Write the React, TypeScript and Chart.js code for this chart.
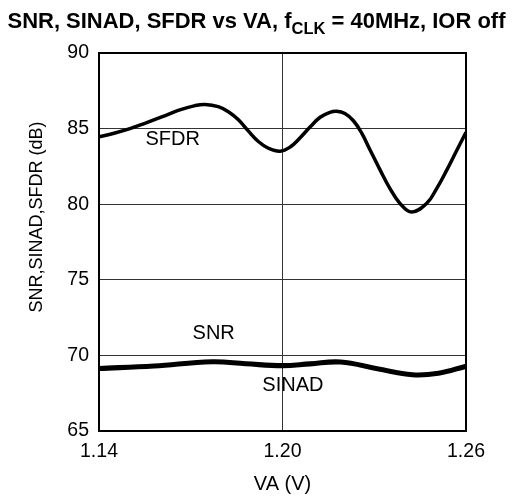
import React, { useEffect, useRef } from 'react';
import { Chart, registerables } from 'chart.js';

Chart.register(...registerables);

const FONT = "'Liberation Sans', Arial, Helvetica, sans-serif";

// ---- data ----
const sfdrX = [1.14, 1.1452, 1.1501, 1.155, 1.1605, 1.1659, 1.1714, 1.1747, 1.179, 1.1823, 1.1855, 1.1888, 1.1921, 1.1954, 1.1992, 1.2025, 1.2057, 1.209, 1.2123, 1.2155, 1.2177, 1.2204, 1.2232, 1.2259, 1.2286, 1.2319, 1.2351, 1.2384, 1.2422, 1.2471, 1.2504, 1.2537, 1.257, 1.26];
const sfdrY = [84.45, 84.71, 85.0, 85.35, 85.77, 86.2, 86.52, 86.6, 86.45, 86.12, 85.6, 84.85, 84.15, 83.7, 83.5, 83.78, 84.38, 85.1, 85.75, 86.08, 86.15, 86.0, 85.52, 84.7, 83.6, 82.27, 81.05, 80.05, 79.48, 80.04, 81.03, 82.25, 83.57, 84.75];

const noiseX = [1.14, 1.158, 1.177, 1.188, 1.2, 1.209, 1.219, 1.231, 1.2425, 1.251, 1.26];
const snrY = [69.2, 69.37, 69.65, 69.52, 69.39, 69.51, 69.63, 69.19, 68.79, 68.89, 69.35];
const sinadY = [69.06, 69.23, 69.51, 69.38, 69.25, 69.37, 69.49, 69.05, 68.65, 68.75, 69.21];

const xTicks = [1.14, 1.2, 1.26];
const yTicks = [65, 70, 75, 80, 85, 90];

const titleMain = 'SNR, SINAD, SFDR vs VA, f';
const titleSub = 'CLK';
const titleRest = ' = 40MHz, IOR off';
const xTitle = 'VA (V)';
const yTitle = 'SNR,SINAD,SFDR (dB)';

const curveLabels = [
  { text: 'SFDR', x: 1.1641, y: 84.25 },
  { text: 'SNR', x: 1.1775, y: 71.44 },
  { text: 'SINAD', x: 1.2034, y: 68.04 },
];

const decor = {
  id: 'decor',
  afterDraw(chart: any) {
    const { ctx, chartArea: a, scales } = chart;
    ctx.save();
    // plot frame
    ctx.strokeStyle = '#000';
    ctx.lineWidth = 2;
    ctx.strokeRect(a.left, a.top, a.right - a.left, a.bottom - a.top);

    ctx.fillStyle = '#000';
    // curve labels
    ctx.font = `20px ${FONT}`;
    ctx.textAlign = 'center';
    ctx.textBaseline = 'middle';
    for (const l of curveLabels) {
      ctx.fillText(l.text, scales.x.getPixelForValue(l.x), scales.y.getPixelForValue(l.y));
    }

    // x title
    ctx.font = `20px ${FONT}`;
    ctx.fillText(xTitle, (a.left + a.right) / 2, 484);

    // y title
    ctx.save();
    ctx.translate(37.5, 217);
    ctx.rotate(-Math.PI / 2);
    ctx.font = `18px ${FONT}`;
    ctx.fillText(yTitle, 0, 0);
    ctx.restore();

    // title with subscript, fitted to width
    const base = 21;
    const subRatio = 0.75;
    ctx.textAlign = 'left';
    ctx.textBaseline = 'alphabetic';
    ctx.font = `bold ${base}px ${FONT}`;
    const w1 = ctx.measureText(titleMain).width;
    const w3 = ctx.measureText(titleRest).width;
    ctx.font = `bold ${base * subRatio}px ${FONT}`;
    const w2 = ctx.measureText(titleSub).width;
    const s = 498 / (w1 + w2 + w3);
    const fMain = base * s;
    const fSub = base * subRatio * s;
    let x = 7.5;
    ctx.font = `bold ${fMain}px ${FONT}`;
    ctx.fillText(titleMain, x, 27.5);
    x += w1 * s;
    ctx.font = `bold ${fSub}px ${FONT}`;
    ctx.fillText(titleSub, x, 33.5);
    x += w2 * s;
    ctx.font = `bold ${fMain}px ${FONT}`;
    ctx.fillText(titleRest, x, 27.5);
    ctx.restore();
  },
};

export default function App() {
  const ref = useRef<HTMLCanvasElement>(null);
  useEffect(() => {
    if (!ref.current) return;
    Chart.defaults.font.family = FONT;
    const toPts = (xs: number[], ys: number[]) => xs.map((x, i) => ({ x, y: ys[i] }));
    const common = { borderColor: '#000', pointRadius: 0, fill: false };
    const chart = new Chart(ref.current, {
      type: 'line',
      data: {
        datasets: [
          { label: 'SFDR', data: toPts(sfdrX, sfdrY), borderWidth: 3.5, tension: 0.4, ...common },
          { label: 'SNR', data: toPts(noiseX, snrY), borderWidth: 3, tension: 0.4, ...common },
          { label: 'SINAD', data: toPts(noiseX, sinadY), borderWidth: 3, tension: 0.4, ...common },
        ],
      },
      options: {
        responsive: false,
        animation: false,
        layout: { padding: { left: 0, right: 52, top: 53, bottom: 0 } },
        plugins: { legend: { display: false }, tooltip: { enabled: false }, title: { display: false } },
        scales: {
          x: {
            type: 'linear',
            min: 1.14,
            max: 1.26,
            afterBuildTicks: (sc: any) => { sc.ticks = xTicks.map((v) => ({ value: v })); },
            afterFit: (sc: any) => { sc.height = 66; },
            ticks: { color: '#000', font: { size: 19.5 }, padding: 9, maxRotation: 0, autoSkip: false, callback: (v: any) => Number(v).toFixed(2) },
            grid: { color: '#333', lineWidth: 1, drawTicks: false },
            border: { display: false },
          },
          y: {
            type: 'linear',
            min: 65,
            max: 90,
            afterBuildTicks: (sc: any) => { sc.ticks = yTicks.map((v) => ({ value: v })); },
            afterFit: (sc: any) => { sc.width = 99; },
            ticks: { color: '#000', font: { size: 19.5 }, padding: 10, autoSkip: false },
            grid: { color: '#333', lineWidth: 1, drawTicks: false },
            border: { display: false },
          },
        },
      },
      plugins: [decor],
    });
    return () => chart.destroy();
  }, []);
  return (
    <div style={{ position: 'fixed', left: 0, top: 0, width: 518, height: 497, background: '#fff' }}>
      <canvas ref={ref} width={518} height={497} style={{ display: 'block' }} />
    </div>
  );
}
